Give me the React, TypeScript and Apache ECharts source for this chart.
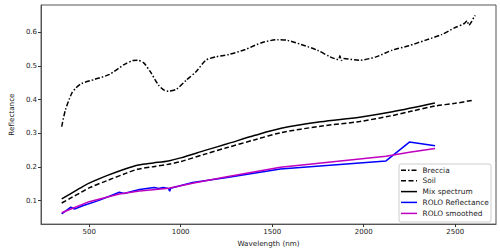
import React, { useEffect, useRef } from "react";
import * as echarts from "echarts";

const xTicks = [500, 1000, 1500, 2000, 2500];
const yTicks = [0.1, 0.2, 0.3, 0.4, 0.5, 0.6];

const breccia: [number, number][] = [
  [350, 0.32], [370, 0.369], [405, 0.419], [430, 0.436], [459, 0.448], [530, 0.46],
  [611, 0.475], [691, 0.504], [740, 0.516], [765, 0.517], [798, 0.509], [834, 0.483],
  [879, 0.443], [910, 0.428], [933, 0.425], [977, 0.431], [1031, 0.458], [1084, 0.483],
  [1138, 0.517], [1192, 0.527], [1263, 0.534], [1353, 0.549], [1442, 0.569], [1531, 0.578],
  [1585, 0.576], [1657, 0.564], [1746, 0.547], [1817, 0.527], [1862, 0.519], [1870, 0.53],
  [1878, 0.516], [1889, 0.522], [1978, 0.517], [2067, 0.527], [2157, 0.547], [2246, 0.56],
  [2335, 0.576], [2425, 0.593], [2496, 0.613], [2550, 0.626], [2565, 0.634], [2575, 0.621],
  [2590, 0.632], [2603, 0.645], [2610, 0.65],
];

const soil: [number, number][] = [
  [350, 0.093], [400, 0.108], [450, 0.123], [500, 0.138], [600, 0.16], [700, 0.181],
  [763, 0.193], [850, 0.201], [933, 0.208], [1000, 0.216], [1138, 0.239], [1250, 0.257],
  [1406, 0.281], [1549, 0.302], [1764, 0.321], [1978, 0.335], [2150, 0.352], [2264, 0.366],
  [2389, 0.381], [2500, 0.389], [2603, 0.399],
];

const mix: [number, number][] = [
  [350, 0.105], [400, 0.121], [450, 0.137], [500, 0.152], [600, 0.175], [700, 0.195],
  [770, 0.206], [850, 0.212], [933, 0.218], [1000, 0.227], [1138, 0.25], [1250, 0.268],
  [1406, 0.294], [1549, 0.315], [1764, 0.334], [1978, 0.348], [2157, 0.364], [2389, 0.39],
];

const roloRefl: [number, number][] = [
  [350, 0.061], [400, 0.081], [420, 0.075], [465, 0.085], [550, 0.1], [665, 0.125],
  [690, 0.121], [775, 0.133], [855, 0.139], [880, 0.136], [905, 0.139], [933, 0.136],
  [940, 0.128], [945, 0.137], [1065, 0.154], [1245, 0.168], [1545, 0.194], [2122, 0.218],
  [2250, 0.274], [2390, 0.263],
];

const roloSmooth: [number, number][] = [
  [350, 0.064], [500, 0.097], [665, 0.12], [775, 0.129], [935, 0.137], [1065, 0.152],
  [1245, 0.17], [1545, 0.199], [2122, 0.232], [2250, 0.244], [2390, 0.255],
];

const legendNames = ["Breccia", "Soil", "Mix spectrum", "ROLO Reflectance", "ROLO smoothed"];
const legendColors = ["#000", "#000", "#000", "#0000ff", "#bf00bf"];
const legendDash: (number[] | null)[] = [[5, 2, 1.5, 2], [5, 2.5], null, null, null];

const FONT = "DejaVu Sans";

export default function App() {
  const ref = useRef<HTMLDivElement>(null);
  useEffect(() => {
    if (!ref.current) return;
    const chart = echarts.init(ref.current, null, { renderer: "svg" });
    const lx = 399, ly = 164;
    const legendGraphics: any[] = [
      {
        type: "rect",
        shape: { x: lx, y: ly, width: 92, height: 58, r: 2 },
        style: { fill: "rgba(255,255,255,0.85)", stroke: "#cccccc", lineWidth: 1 },
        z: 100,
      },
    ];
    const rowsY = [170.3, 180.8, 191.6, 202.4, 213.4];
    legendNames.forEach((n, i) => {
      legendGraphics.push({
        type: "line",
        shape: { x1: 401, y1: rowsY[i], x2: 417, y2: rowsY[i] },
        style: {
          stroke: legendColors[i],
          lineWidth: 1.5,
          lineDash: legendDash[i] || undefined,
        },
        z: 101,
      });
      legendGraphics.push({
        type: "text",
        x: 422.5,
        y: rowsY[i],
        style: {
          text: n,
          fill: "#222",
          font: `7.4px "${FONT}"`,
          textVerticalAlign: "middle",
          verticalAlign: "middle",
        },
        z: 101,
      });
    });

    const lineSeries = (name: string, data: [number, number][], color: string, dash: any, smooth: number | boolean) => ({
      type: "line",
      name,
      data,
      showSymbol: false,
      symbol: "none",
      smooth,
      lineStyle: { color, width: 1.5, type: dash || "solid" },
      itemStyle: { color },
      silent: true,
    });

    chart.setOption({
      animation: false,
      backgroundColor: "#fff",
      textStyle: { fontFamily: FONT },
      grid: {
        left: 32,
        right: 4,
        top: 5,
        bottom: 27,
        show: true,
        borderColor: "#555",
        borderWidth: 1,
        backgroundColor: "#fff",
      },
      xAxis: {
        type: "value",
        min: 237,
        max: 2723,
        name: "Wavelength (nm)",
        nameLocation: "middle",
        nameGap: 13,
        nameTextStyle: { fontSize: 7.2, color: "#222", fontFamily: FONT },
        axisLine: { show: true, onZero: false, lineStyle: { color: "#555", width: 1 } },
        axisTick: { show: true, length: 3, customValues: xTicks, lineStyle: { color: "#333" } },
        axisLabel: {
          customValues: xTicks,
          fontSize: 7,
          color: "#222",
          margin: 4,
          fontFamily: FONT,
          formatter: (v: number) => String(Math.round(v)),
        },
        splitLine: { show: false },
      },
      yAxis: {
        type: "value",
        min: 0.0304,
        max: 0.681,
        name: "Reflectance",
        nameLocation: "middle",
        nameGap: 23,
        nameTextStyle: { fontSize: 7.2, color: "#222", fontFamily: FONT },
        axisLine: { show: true, onZero: false, lineStyle: { color: "#555", width: 1 } },
        axisTick: { show: true, length: 3, customValues: yTicks, lineStyle: { color: "#333" } },
        axisLabel: {
          customValues: yTicks,
          fontSize: 7,
          color: "#222",
          margin: 4,
          fontFamily: FONT,
          formatter: (v: number) => v.toFixed(1),
        },
        splitLine: { show: false },
      },
      series: [
        lineSeries("Breccia", breccia, "#000", [5, 2, 1.5, 2], 0.25),
        lineSeries("Soil", soil, "#000", [5, 2.5], 0.3),
        lineSeries("Mix spectrum", mix, "#000", null, 0.3),
        lineSeries("ROLO Reflectance", roloRefl, "#0000ff", null, false),
        lineSeries("ROLO smoothed", roloSmooth, "#bf00bf", null, false),
      ],
      graphic: legendGraphics,
    });
    return () => chart.dispose();
  }, []);
  return (
    <div
      ref={ref}
      style={{ position: "fixed", left: 0, top: 0, width: 500, height: 252, background: "#fff" }}
    />
  );
}
